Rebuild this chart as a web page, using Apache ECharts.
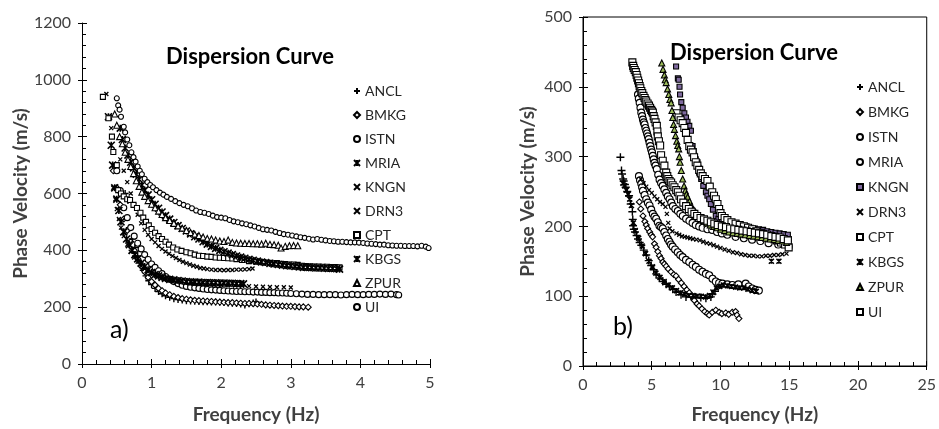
<!DOCTYPE html>
<html>
<head>
<meta charset="utf-8">
<script src="https://cdn.jsdelivr.net/npm/echarts@6/dist/echarts.min.js"></script>
<style>
  html, body { margin: 0; padding: 0; background: #ffffff; }
  #chart { width: 939px; height: 429px; }
</style>
</head>
<body>
<div id="chart"></div>
<script>
// Station names, in legend order
const stations = ['ANCL', 'BMKG', 'ISTN', 'MRIA', 'KNGN', 'DRN3', 'CPT', 'KBGS', 'ZPUR', 'UI'];

// Axis ranges and tick steps
const axisA = { xMin: 0, xMax: 5, xStep: 1, yMin: 0, yMax: 1200, yStep: 200 };
const axisB = { xMin: 0, xMax: 25, xStep: 5, yMin: 0, yMax: 500, yStep: 100 };

// ---- Panel a) : [frequency (Hz), phase velocity (m/s)] ----
const aANCL = [[0.62,600],[0.66,575],[0.68,480],[0.72,440],[0.76,410],[0.80,380],[0.84,355],[0.88,330],[0.92,310],[0.96,293],[1.00,280],[1.05,266],[1.10,255],[1.15,247],[1.20,240],[1.26,235],[1.32,230],[1.38,227],[1.44,225],[1.50,223],[1.56,222],[1.62,221],[1.68,220],[1.74,219],[1.80,219],[1.86,218],[1.92,218],[1.98,217],[2.04,216],[2.10,215],[2.16,214],[2.22,213],[2.28,211],[2.34,208],[2.40,212],[2.46,215],[2.50,218]];
const aBMKG = [[0.45,680],[0.50,620],[0.55,560],[0.60,510],[0.65,470],[0.70,430],[0.75,400],[0.80,370],[0.85,345],[0.90,325],[0.95,305],[1.00,290],[1.05,278],[1.10,266],[1.15,258],[1.20,250],[1.26,244],[1.32,238],[1.38,234],[1.44,230],[1.50,228],[1.56,226],[1.62,224],[1.68,223],[1.74,222],[1.80,221],[1.86,220],[1.92,219],[1.98,218],[2.04,217],[2.10,216],[2.16,216],[2.22,215],[2.28,214],[2.34,213],[2.40,213],[2.46,212],[2.52,211],[2.58,210],[2.64,208],[2.70,207],[2.76,206],[2.82,205],[2.88,204],[2.94,203],[3.00,203],[3.06,202],[3.12,201],[3.18,201],[3.25,200]];
const aISTN = [[0.50,680],[0.55,610],[0.60,550],[0.65,515],[0.70,480],[0.75,450],[0.80,425],[0.85,405],[0.90,385],[0.95,368],[1.00,352],[1.05,340],[1.10,328],[1.15,318],[1.20,308],[1.26,298],[1.32,290],[1.38,283],[1.44,277],[1.50,273],[1.56,270],[1.62,268],[1.68,266],[1.74,264],[1.80,262],[1.86,261],[1.92,260],[1.98,259],[2.04,258],[2.10,257],[2.16,256],[2.22,255],[2.28,255],[2.34,254],[2.40,254],[2.46,253],[2.52,253],[2.58,252],[2.64,252],[2.70,251],[2.76,251],[2.82,250],[2.88,250],[2.94,249],[3.00,248],[3.08,247],[3.16,246],[3.24,245],[3.32,245],[3.40,244],[3.48,244],[3.56,244],[3.64,244],[3.72,243],[3.80,244],[3.88,245],[3.96,244],[4.04,244],[4.12,245],[4.20,245],[4.28,246],[4.36,245],[4.44,246],[4.52,244],[4.55,243]];
const aMRIA = [[0.38,870],[0.42,770],[0.44,700],[0.47,620],[0.50,580],[0.53,540],[0.56,500],[0.60,465],[0.64,440],[0.68,420],[0.72,400],[0.76,385],[0.80,370],[0.85,355],[0.90,343],[0.95,332],[1.00,322],[1.05,315],[1.10,310],[1.15,305],[1.20,301],[1.26,298],[1.32,296],[1.38,294],[1.44,292],[1.50,290],[1.56,289],[1.62,288],[1.68,288],[1.74,287],[1.80,287],[1.86,286],[1.92,286],[1.98,285],[2.04,285],[2.10,284],[2.16,284],[2.22,283],[2.28,283],[2.32,282]];
const aKNGN = [[0.35,950],[0.40,870],[0.42,830],[0.45,620],[0.48,580],[0.50,545],[0.53,510],[0.56,480],[0.60,450],[0.65,420],[0.70,395],[0.75,375],[0.80,360],[0.85,345],[0.90,335],[0.95,325],[1.00,318],[1.06,310],[1.12,305],[1.18,300],[1.24,297],[1.30,295],[1.40,292],[1.50,288],[1.60,284],[1.70,282],[1.80,280],[1.90,279],[2.00,278],[2.10,277],[2.20,276],[2.30,275],[2.40,274],[2.50,273],[2.60,272],[2.70,271],[2.80,270],[2.90,270],[3.00,269]];
const aDRN3 = [[0.55,720],[0.60,680],[0.65,640],[0.70,600],[0.75,560],[0.80,525],[0.85,495],[0.90,472],[0.95,455],[1.00,440],[1.05,428],[1.10,415],[1.15,405],[1.20,396],[1.25,388],[1.30,380],[1.35,373],[1.40,366],[1.45,360],[1.50,355],[1.55,350],[1.60,346],[1.65,342],[1.70,338],[1.75,336],[1.80,334],[1.86,332],[1.92,331],[1.98,331],[2.04,330],[2.10,331],[2.16,331],[2.22,332],[2.28,332],[2.34,333],[2.40,334],[2.45,336]];
const aCPT = [[0.30,940],[0.38,865],[0.43,800],[0.45,746],[0.50,700],[0.52,612],[0.56,600],[0.60,590],[0.65,580],[0.69,577],[0.74,560],[0.79,549],[0.84,532],[0.88,515],[0.92,500],[0.96,488],[1.00,475],[1.05,462],[1.10,450],[1.15,440],[1.20,430],[1.25,420],[1.31,410],[1.37,403],[1.43,398],[1.50,393],[1.56,390],[1.62,385],[1.68,381],[1.74,380],[1.80,378],[1.86,377],[1.92,375],[1.98,374],[2.04,373],[2.10,372],[2.16,371],[2.22,369],[2.30,366],[2.40,362],[2.50,360],[2.60,358],[2.70,356],[2.80,355],[2.86,353],[2.92,352],[2.98,350],[3.04,350],[3.10,349],[3.16,346],[3.22,345],[3.28,344],[3.34,343],[3.40,343],[3.46,342],[3.52,342],[3.58,341],[3.64,341],[3.70,340]];
const aKBGS = [[0.55,830],[0.58,790],[0.62,760],[0.66,735],[0.70,710],[0.74,690],[0.78,668],[0.82,650],[0.86,630],[0.90,612],[0.95,595],[1.00,578],[1.05,562],[1.10,548],[1.15,535],[1.20,522],[1.26,510],[1.32,498],[1.38,487],[1.44,477],[1.50,468],[1.56,458],[1.62,448],[1.68,440],[1.74,430],[1.80,422],[1.86,414],[1.92,407],[1.98,400],[2.04,395],[2.10,390],[2.16,385],[2.22,380],[2.28,376],[2.34,372],[2.40,368],[2.46,365],[2.52,362],[2.58,359],[2.64,357],[2.70,354],[2.76,352],[2.82,350],[2.88,348],[2.94,346],[3.00,345],[3.06,343],[3.12,342],[3.18,340],[3.24,340],[3.30,339],[3.36,338],[3.42,338],[3.48,337],[3.54,336],[3.60,336],[3.66,335],[3.70,334]];
const aZPUR = [[0.47,880],[0.50,840],[0.54,800],[0.58,775],[0.62,745],[0.66,720],[0.70,695],[0.74,670],[0.78,645],[0.82,625],[0.86,605],[0.90,590],[0.95,575],[1.00,562],[1.05,550],[1.10,538],[1.15,526],[1.20,515],[1.26,505],[1.32,495],[1.38,486],[1.44,478],[1.50,470],[1.56,463],[1.62,457],[1.68,452],[1.74,447],[1.80,442],[1.86,440],[1.92,436],[1.98,433],[2.04,431],[2.10,436],[2.16,428],[2.22,426],[2.28,425],[2.34,424],[2.40,424],[2.46,423],[2.52,423],[2.58,422],[2.64,425],[2.70,421],[2.76,420],[2.82,418],[2.86,408],[2.92,414],[2.98,416],[3.04,417],[3.10,416]];
const aUI = [[0.50,935],[0.52,910],[0.54,895],[0.56,870],[0.60,835],[0.62,815],[0.65,790],[0.68,770],[0.71,745],[0.74,728],[0.77,712],[0.80,695],[0.83,680],[0.86,668],[0.90,652],[0.94,640],[0.98,630],[1.02,622],[1.07,612],[1.12,603],[1.17,596],[1.22,588],[1.28,581],[1.34,573],[1.40,566],[1.46,560],[1.52,555],[1.58,548],[1.64,540],[1.70,535],[1.76,532],[1.82,528],[1.88,522],[1.94,517],[2.00,515],[2.06,513],[2.12,507],[2.18,502],[2.24,499],[2.30,495],[2.36,492],[2.42,488],[2.48,484],[2.54,479],[2.60,474],[2.66,472],[2.72,470],[2.78,465],[2.84,461],[2.90,457],[2.96,455],[3.02,452],[3.08,449],[3.14,446],[3.20,444],[3.26,441],[3.32,438],[3.38,440],[3.44,437],[3.50,435],[3.56,433],[3.62,432],[3.68,430],[3.74,430],[3.80,429],[3.86,428],[3.92,428],[3.98,427],[4.04,426],[4.10,424],[4.16,423],[4.22,422],[4.28,420],[4.34,420],[4.40,418],[4.46,417],[4.52,416],[4.58,416],[4.64,415],[4.70,415],[4.76,415],[4.82,414],[4.88,416],[4.94,413],[4.98,408]];

// ---- Panel b) : [frequency (Hz), phase velocity (m/s)] ----
const bANCL = [[2.72,299],[2.80,280],[2.84,275],[2.92,268],[2.96,265],[3.05,260],[3.11,256],[3.22,250],[3.35,244],[3.47,232],[3.59,221],[3.62,210],[3.64,201],[3.70,196],[3.78,192],[3.90,187],[4.00,182],[4.12,177],[4.24,173],[4.42,166],[4.60,159],[4.78,151],[4.96,144],[5.14,138],[5.32,132],[5.56,126],[5.80,121],[6.05,117],[6.29,114],[6.53,110],[6.77,106],[7.13,102],[7.49,99],[7.85,100],[8.21,99],[8.57,98],[8.94,97],[9.30,99],[9.42,103],[9.60,107]];
const bBMKG = [[4.10,235],[4.20,225],[4.36,215],[4.50,207],[4.60,202],[4.70,197],[4.85,192],[4.96,188],[5.06,185],[5.20,175],[5.32,170],[5.44,164],[5.56,158],[5.68,154],[5.80,149],[5.92,146],[6.05,143],[6.20,139],[6.40,135],[6.60,131],[6.77,129],[6.95,124],[7.15,119],[7.35,114],[7.55,109],[7.73,105],[7.90,100],[8.10,94],[8.30,89],[8.45,86],[8.65,82],[8.85,78],[9.05,75],[9.18,73],[9.40,77],[9.66,80],[9.90,77],[10.10,75],[10.38,76],[10.60,74],[10.85,77],[11.10,78],[11.20,73],[11.34,68]];
const bISTN = [[4.00,389],[4.06,383],[4.12,377],[4.18,370],[4.24,363],[4.30,358],[4.36,353],[4.42,349],[4.48,346],[4.54,341],[4.60,337],[4.66,333],[4.72,329],[4.78,325],[4.84,320],[4.90,315],[4.96,310],[5.02,306],[5.08,301],[5.14,296],[5.20,291],[5.28,287],[5.37,282],[5.47,274],[5.57,267],[5.68,262],[5.80,258],[5.92,253],[6.05,248],[6.17,243],[6.30,239],[6.42,234],[6.54,229],[6.72,225],[6.90,222],[7.08,218],[7.26,215],[7.50,211],[7.74,208],[7.97,205],[8.20,202],[8.45,200],[8.70,198],[9.05,196],[9.40,195],[9.75,192],[10.10,190],[10.50,188],[11.10,185],[11.70,183],[12.30,181],[12.90,179],[13.50,176],[14.20,174],[14.96,171]];
const bMRIA = [[4.07,272],[4.15,266],[4.24,261],[4.30,256],[4.36,251],[4.48,245],[4.60,239],[4.72,234],[4.84,230],[4.96,224],[5.08,218],[5.20,214],[5.32,211],[5.44,206],[5.56,201],[5.68,199],[5.80,197],[5.92,192],[6.05,187],[6.17,182],[6.29,178],[6.40,174],[6.52,171],[6.70,167],[6.89,163],[7.07,159],[7.25,156],[7.49,152],[7.73,149],[7.97,145],[8.21,142],[8.45,138],[8.69,135],[8.94,132],[9.18,130],[9.42,125],[9.66,121],[9.90,119],[10.14,118],[10.50,117],[10.86,116],[11.30,117],[11.83,118],[12.05,114],[12.30,111],[12.55,109],[12.79,108]];
const bKNGN = [[6.77,429],[6.90,412],[6.96,410],[7.02,400],[7.06,389],[7.15,378],[7.25,370],[7.37,362],[7.49,356],[7.60,350],[7.73,344],[7.85,337],[7.97,315],[8.05,308],[8.10,301],[8.20,296],[8.33,292],[8.40,284],[8.45,277],[8.60,268],[8.75,258],[8.94,249],[9.05,244],[9.18,239],[9.30,232],[9.45,224],[9.66,215],[9.85,211],[10.10,208],[10.40,206],[10.70,205],[11.00,203],[11.30,202],[11.60,201],[11.90,200],[12.20,198],[12.50,197],[12.80,196],[13.10,195],[13.40,193],[13.70,192],[14.00,191],[14.30,190],[14.60,189],[14.90,188],[14.96,182]];
const bDRN3 = [[4.20,268],[4.40,262],[4.60,257],[4.80,252],[5.00,248],[5.20,243],[5.40,239],[5.60,235],[5.80,232],[6.00,228],[6.10,218],[6.20,205],[6.30,197],[6.50,193],[6.80,190],[7.00,188],[7.20,186],[7.40,185],[7.60,184],[7.80,183],[8.00,182],[8.25,181],[8.50,180],[8.75,178],[9.00,176],[9.25,175],[9.50,173],[9.75,171],[10.00,169],[10.30,167],[10.60,165],[10.90,163],[11.20,162],[11.50,160],[11.80,159],[12.10,158],[12.40,158],[12.70,157],[13.00,157],[13.30,158],[13.60,158],[13.90,159],[14.20,159],[14.50,160],[14.80,161]];
const bCPT = [[6.80,362],[6.95,356],[7.10,352],[7.25,348],[7.37,341],[7.49,334],[7.61,324],[7.73,315],[7.85,310],[7.97,306],[8.08,299],[8.20,292],[8.32,287],[8.45,281],[8.57,276],[8.70,272],[8.87,268],[9.05,265],[9.22,257],[9.40,249],[9.53,244],[9.66,239],[9.78,232],[9.90,225],[10.00,219],[10.10,215],[10.30,212],[10.50,209],[10.80,206],[11.10,204],[11.40,202],[11.70,200],[12.00,198],[12.30,196],[12.60,193],[12.90,191],[13.20,188],[13.50,186],[13.80,183],[14.10,180],[14.40,177],[14.70,174],[14.96,170]];
const bKBGS = [[2.90,262],[3.03,258],[3.15,252],[3.28,246],[3.40,239],[3.52,230],[3.66,205],[3.80,194],[4.05,183],[4.30,172],[4.55,161],[4.80,150],[5.05,142],[5.30,133],[5.60,127],[5.90,121],[6.20,116],[6.50,112],[6.80,108],[7.10,105],[7.40,103],[7.70,101],[8.00,101],[8.30,100],[8.60,100],[8.90,99],[9.20,101],[9.45,106],[9.70,112],[9.95,114],[10.20,116],[10.50,115],[10.80,114],[11.10,113],[11.40,112],[11.70,112],[12.00,110],[12.30,108],[12.60,107],[13.70,150],[14.25,150]];
const bZPUR = [[5.73,434],[5.82,425],[5.92,417],[5.98,410],[6.05,406],[6.15,397],[6.24,389],[6.32,382],[6.41,377],[6.47,366],[6.53,356],[6.59,346],[6.65,339],[6.73,330],[6.82,322],[6.89,316],[6.96,311],[7.01,300],[7.06,292],[7.15,280],[7.25,268],[7.35,258],[7.44,251],[7.52,246],[7.61,242],[7.75,236],[7.90,229],[8.05,224],[8.20,220],[8.40,215],[8.60,211],[8.80,208],[9.00,205],[9.25,202],[9.50,200],[9.75,198],[10.00,196],[10.30,194],[10.60,192],[10.90,191],[11.20,190],[11.50,189],[11.80,188],[12.10,187],[12.40,186],[12.70,185],[13.00,184],[13.30,183],[13.60,182],[13.90,181],[14.20,180],[14.50,179],[14.80,177]];
const bUI = [[3.59,435],[3.65,430],[3.69,427],[3.76,424],[3.84,421],[3.90,417],[3.95,413],[4.01,409],[4.07,405],[4.12,401],[4.17,398],[4.24,394],[4.31,391],[4.40,387],[4.48,384],[4.54,381],[4.60,379],[4.70,376],[4.80,373],[4.88,370],[4.96,367],[5.02,365],[5.08,363],[5.14,358],[5.20,354],[5.28,349],[5.37,344],[5.41,336],[5.44,329],[5.52,322],[5.61,316],[5.68,302],[5.80,294],[5.92,287],[6.05,277],[6.13,272],[6.21,268],[6.30,265],[6.41,263],[6.52,259],[6.65,256],[6.78,252],[6.90,249],[7.02,244],[7.13,239],[7.30,234],[7.50,229],[7.70,225],[7.90,221],[8.10,218],[8.30,215],[8.55,212],[8.80,210],[9.05,208],[9.30,206],[9.55,204],[9.80,202],[10.10,200],[10.40,199],[10.70,197],[11.00,196],[11.30,195],[11.60,194],[11.90,193],[12.20,192],[12.50,191],[12.80,190],[13.10,189],[13.40,188],[13.70,186],[14.00,185],[14.30,184],[14.60,182],[14.90,180]];

const FONT = 'Lato, "Liberation Sans", sans-serif';
const TEXT = '#404040';

// Marker shapes drawn as strokes
const SYM = {
  plus: 'path://M5,0L5,10M0,5L10,5',
  cross: 'path://M0,0L10,10M10,0L0,10',
  star: 'path://M0,0L10,10M10,0L0,10M5,0L5,10'
};

// Marker style per station for each panel: [symbol, size, fill, strokeWidth]
const markA = {
  ANCL: [SYM.plus, 7, 'transparent', 1.4],
  BMKG: ['diamond', 6, '#ffffff', 1.1],
  ISTN: ['circle', 6, '#ffffff', 1.1],
  MRIA: [SYM.star, 7, 'transparent', 1.6],
  KNGN: [SYM.cross, 4, 'transparent', 1.3],
  DRN3: [SYM.cross, 4, 'transparent', 1.3],
  CPT:  ['rect', 5, '#ffffff', 1.1],
  KBGS: [SYM.star, 7, 'transparent', 1.6],
  ZPUR: ['triangle', 6, '#ffffff', 1.1],
  UI:   ['circle', 5, '#ffffff', 1.1]
};
const markB = {
  ANCL: [SYM.plus, 8, 'transparent', 1.4],
  BMKG: ['diamond', 6, '#ffffff', 1.1],
  ISTN: ['circle', 7, '#ffffff', 1.1],
  MRIA: ['circle', 7, '#ffffff', 1.1],
  KNGN: ['rect', 5, '#7f6a9f', 1.1],
  DRN3: [SYM.cross, 4, 'transparent', 1.3],
  CPT:  ['rect', 7, '#ffffff', 1.1],
  KBGS: [SYM.star, 5, 'transparent', 1.6],
  ZPUR: ['triangle', 6, '#9bbb59', 1.1],
  UI:   ['rect', 7, '#ffffff', 1.1]
};

const dataA = { ANCL: aANCL, BMKG: aBMKG, ISTN: aISTN, MRIA: aMRIA, KNGN: aKNGN, DRN3: aDRN3, CPT: aCPT, KBGS: aKBGS, ZPUR: aZPUR, UI: aUI };
const dataB = { ANCL: bANCL, BMKG: bBMKG, ISTN: bISTN, MRIA: bMRIA, KNGN: bKNGN, DRN3: bDRN3, CPT: bCPT, KBGS: bKBGS, ZPUR: bZPUR, UI: bUI };

// Panel b series carry a trailing space so each panel keeps its own legend entries
function seriesFor(panel, name, data, mark) {
  return {
    name: panel === 0 ? name : name + ' ',
    type: 'scatter',
    xAxisIndex: panel,
    yAxisIndex: panel,
    data: data,
    symbol: mark[0],
    symbolSize: mark[1],
    itemStyle: { color: mark[2], borderColor: '#000000', borderWidth: mark[3], opacity: 1 },
    silent: true,
    emphasis: { disabled: true }
  };
}

const series = [];
stations.forEach(s => series.push(seriesFor(0, s, dataA[s], markA[s])));
stations.forEach(s => series.push(seriesFor(1, s, dataB[s], markB[s])));

// Main value axis: labels, line, inward major and minor ticks
function valueAxis(r, which, extra) {
  const isX = which === 'x';
  return Object.assign({
    type: 'value',
    min: isX ? r.xMin : r.yMin,
    max: isX ? r.xMax : r.yMax,
    interval: isX ? r.xStep : r.yStep,
    splitLine: { show: false },
    axisLine: { show: true, onZero: false, lineStyle: { color: '#000000', width: 1 } },
    axisTick: { show: true, inside: true, length: 5, lineStyle: { color: '#000000', width: 1 } },
    minorTick: { show: true, splitNumber: 5, length: 4, lineStyle: { color: '#000000', width: 1 } },
    axisLabel: { color: TEXT, fontFamily: FONT, fontSize: 16, margin: 11, formatter: v => String(v) },
    nameLocation: 'middle',
    nameTextStyle: { color: TEXT, fontFamily: FONT, fontSize: 19, fontWeight: 'bold' }
  }, extra);
}

// Companion axis that only adds the outward half of each major tick
function tickAxis(r, which, gridIndex) {
  const isX = which === 'x';
  return {
    type: 'value',
    gridIndex: gridIndex,
    position: isX ? 'bottom' : 'left',
    min: isX ? r.xMin : r.yMin,
    max: isX ? r.xMax : r.yMax,
    interval: isX ? r.xStep : r.yStep,
    splitLine: { show: false },
    axisLine: { show: false, onZero: false },
    axisTick: { show: true, inside: false, length: 4, lineStyle: { color: '#000000', width: 1 } },
    axisLabel: { show: false },
    silent: true
  };
}

function legendFor(panel, left, top, gap) {
  return {
    orient: 'vertical',
    left: left,
    top: top,
    itemGap: gap,
    itemWidth: 6,
    itemHeight: 6,
    itemTextGap: 6,
    selectedMode: false,
    data: stations.map(s => panel === 0 ? s : s + ' '),
    formatter: n => n.trim(),
    textStyle: { color: '#262626', fontFamily: FONT, fontSize: 14 }
  };
}

const option = {
  animation: false,
  backgroundColor: '#ffffff',
  grid: [
    { left: 82, top: 23, width: 348, height: 341 },
    { left: 583, top: 17, width: 346, height: 351, show: true, borderColor: '#000000', borderWidth: 1, backgroundColor: 'transparent' }
  ],
  xAxis: [
    valueAxis(axisA, 'x', { gridIndex: 0, name: 'Frequency (Hz)', nameGap: 41 }),
    valueAxis(axisB, 'x', { gridIndex: 1, name: 'Frequency (Hz)', nameGap: 39 }),
    tickAxis(axisA, 'x', 0),
    tickAxis(axisB, 'x', 1)
  ],
  yAxis: [
    valueAxis(axisA, 'y', { gridIndex: 0, name: 'Phase Velocity (m/s)', nameGap: 50 }),
    valueAxis(axisB, 'y', { gridIndex: 1, name: 'Phase Velocity (m/s)', nameGap: 46 }),
    tickAxis(axisA, 'y', 0),
    tickAxis(axisB, 'y', 1)
  ],
  legend: [
    legendFor(0, 348, 79, 10),
    legendFor(1, 851, 75, 11)
  ],
  graphic: [
    { type: 'text', left: 166, top: 46, style: { text: 'Dispersion Curve', font: 'bold 22px ' + FONT, fill: '#000000' } },
    { type: 'text', left: 670, top: 42, style: { text: 'Dispersion Curve', font: 'bold 22px ' + FONT, fill: '#000000' } },
    { type: 'text', left: 110, top: 317, style: { text: 'a)', font: '25px ' + FONT, fill: '#000000' } },
    { type: 'text', left: 613, top: 314, style: { text: 'b)', font: '25px ' + FONT, fill: '#000000' } }
  ],
  series: series
};

const chart = echarts.init(document.getElementById('chart'));
chart.setOption(option);
</script>
</body>
</html>
